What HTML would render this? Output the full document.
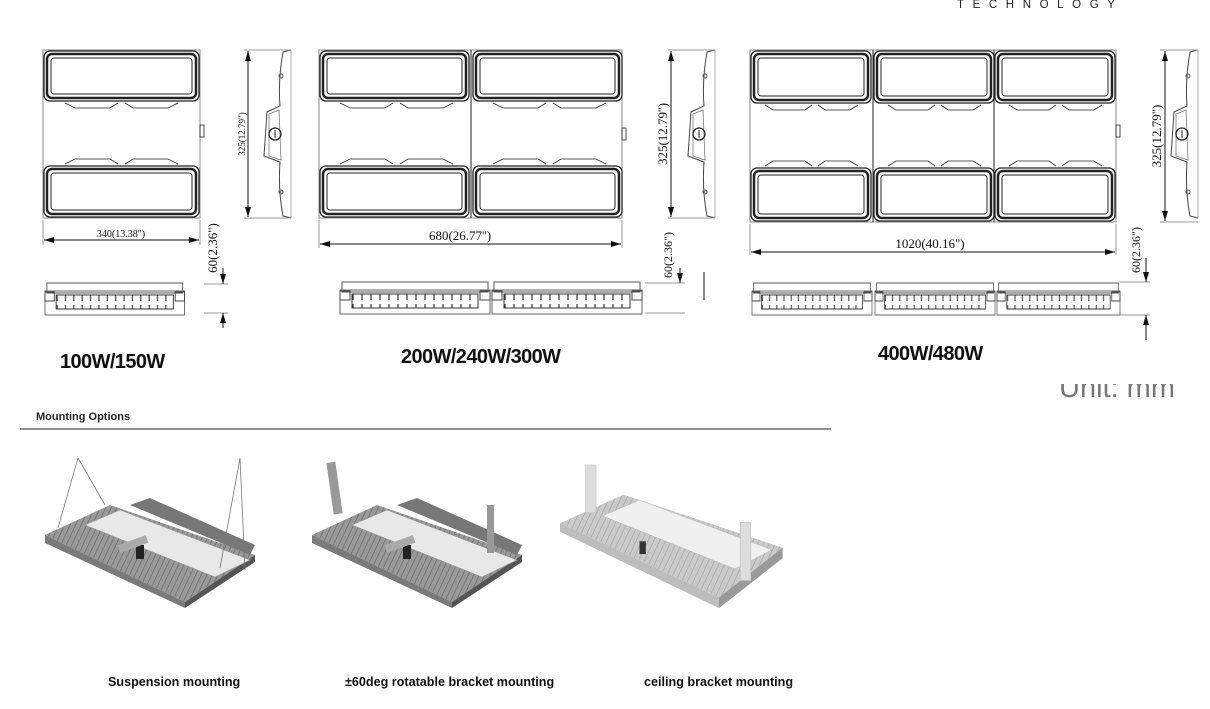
<!DOCTYPE html>
<html><head><meta charset="utf-8">
<style>
html,body{margin:0;padding:0;background:#fff;}
body{width:1210px;height:709px;position:relative;overflow:hidden;font-family:"Liberation Sans",sans-serif;}
.t{position:absolute;white-space:nowrap;}
.lbl{font-weight:bold;font-size:20px;color:#111;letter-spacing:-0.6px;}
.cap{font-weight:bold;font-size:12.6px;color:#111;}
</style></head><body>
<svg width="1210" height="709" style="position:absolute;left:0;top:0" xmlns="http://www.w3.org/2000/svg">
<defs>
<pattern id="tk" width="9" height="20" patternUnits="userSpaceOnUse">
<rect width="9" height="20" fill="#fff"/><line x1="4" y1="2" x2="4" y2="18" stroke="#333" stroke-width="1.2"/>
</pattern>
<pattern id="fin" width="5" height="5" patternUnits="userSpaceOnUse" patternTransform="rotate(25)">
<rect width="5" height="5" fill="#999"/><line x1="0" y1="0" x2="0" y2="5" stroke="#666" stroke-width="1.4"/>
</pattern>
<pattern id="finL" width="5" height="5" patternUnits="userSpaceOnUse" patternTransform="rotate(25)">
<rect width="5" height="5" fill="#cacaca"/><line x1="0" y1="0" x2="0" y2="5" stroke="#a5a5a5" stroke-width="1.4"/>
</pattern>
<g id="side">
<path d="M30,0 L22,2 Q17,30 19,56 L6,62 L3,106 L19,112 Q17,140 22,166 L30,168" fill="none" stroke="#444" stroke-width="1"/>
<path d="M8,64 L18,60 L20,110 L8,106 Z" fill="none" stroke="#777" stroke-width="0.8"/>
<line x1="30" y1="0" x2="30" y2="168" stroke="#999" stroke-width="0.8"/>
<circle cx="14" cy="84" r="6" fill="none" stroke="#222" stroke-width="1.3"/>
<line x1="14" y1="80" x2="14" y2="88" stroke="#222"/>
<circle cx="20" cy="26" r="2" fill="none" stroke="#555"/>
<circle cx="20" cy="142" r="2" fill="none" stroke="#555"/>
</g>
<g id="bot">
<rect x="2" y="0" width="146" height="10" fill="none" stroke="#555" stroke-width="1"/>
<rect x="0" y="8" width="150" height="24" fill="none" stroke="#666" stroke-width="1"/>
<rect x="12" y="12" width="126" height="14" fill="url(#tk)" stroke="#333" stroke-width="1"/>
<rect x="0" y="9" width="10" height="9" fill="none" stroke="#444"/>
<rect x="140" y="9" width="10" height="9" fill="none" stroke="#444"/>
</g>
<marker id="ar" viewBox="0 0 10 6" refX="10" refY="3" markerWidth="10" markerHeight="6" orient="auto-start-reverse"><path d="M0,0 L10,3 L0,6 Z" fill="#111"/></marker>
</defs>

<g fill="none" stroke="#222">
<rect x="43" y="50" width="157" height="168" stroke="#888" stroke-width="1"/>
<rect x="44" y="51" width="155" height="50" rx="6" stroke-width="1.3"/>
<rect x="47" y="54" width="149" height="44" rx="5" stroke-width="2.5"/>
<rect x="51" y="58" width="141" height="36" rx="3" stroke-width="1"/>
<rect x="44" y="166" width="155" height="51" rx="6" stroke-width="1.3"/>
<rect x="47" y="169" width="149" height="45" rx="5" stroke-width="2.5"/>
<rect x="51" y="173" width="141" height="37" rx="3" stroke-width="1"/>
<path d="M65,103 L75,108 L110,108 L118,103 M125,103 L133,108 L168,108 L178,103" stroke-width="0.8"/>
<path d="M65,164 L75,159 L110,159 L118,164 M125,164 L133,159 L168,159 L178,164" stroke-width="0.8"/>
<rect x="200" y="125" width="4" height="12" stroke-width="0.8"/>

<rect x="319" y="50" width="303" height="168" stroke="#888" stroke-width="1"/>
<line x1="471" y1="50" x2="471" y2="218" stroke-width="1"/>
<g id="p2">
<rect x="320" y="51" width="149" height="50" rx="6" stroke-width="1.3"/>
<rect x="323" y="54" width="143" height="44" rx="5" stroke-width="2.5"/>
<rect x="327" y="58" width="135" height="36" rx="3" stroke-width="1"/>
<rect x="320" y="166" width="149" height="51" rx="6" stroke-width="1.3"/>
<rect x="323" y="169" width="143" height="45" rx="5" stroke-width="2.5"/>
<rect x="327" y="173" width="135" height="37" rx="3" stroke-width="1"/>
<path d="M340,103 L350,108 L385,108 L393,103 M400,103 L408,108 L443,108 L453,103" stroke-width="0.8"/>
<path d="M340,164 L350,159 L385,159 L393,164 M400,164 L408,159 L443,159 L453,164" stroke-width="0.8"/>
</g>
<use href="#p2" x="153"/>
<rect x="622" y="128" width="4" height="12" stroke-width="0.8"/>

<rect x="750" y="50" width="366" height="172" stroke="#888" stroke-width="1"/>
<line x1="873" y1="50" x2="873" y2="222"/><line x1="994" y1="50" x2="994" y2="222"/>
<g id="p3">
<rect x="751" y="51" width="120" height="52" rx="6" stroke-width="1.3"/>
<rect x="754" y="54" width="114" height="46" rx="5" stroke-width="2.5"/>
<rect x="758" y="58" width="106" height="38" rx="3" stroke-width="1"/>
<rect x="751" y="168" width="120" height="53" rx="6" stroke-width="1.3"/>
<rect x="754" y="171" width="114" height="47" rx="5" stroke-width="2.5"/>
<rect x="758" y="175" width="106" height="39" rx="3" stroke-width="1"/>
<path d="M765,105 L773,110 L805,110 L812,105 M818,105 L825,110 L850,110 L858,105" stroke-width="0.8"/>
<path d="M765,166 L773,161 L805,161 L812,166 M818,166 L825,161 L850,161 L858,166" stroke-width="0.8"/>
</g>
<use href="#p3" x="123"/><use href="#p3" x="244"/>
<rect x="1116" y="125" width="4" height="12" stroke-width="0.8"/>
</g>

<use href="#side" x="261" y="50"/>
<use href="#side" x="685" y="50"/>
<use href="#side" x="1168" y="50"/>

<g stroke="#111" stroke-width="1">
<line x1="43" y1="220" x2="43" y2="245" stroke="#999"/><line x1="200" y1="220" x2="200" y2="245" stroke="#999"/>
<line x1="44" y1="240" x2="199" y2="240" marker-start="url(#ar)" marker-end="url(#ar)"/>
<line x1="319" y1="220" x2="319" y2="248" stroke="#999"/><line x1="622" y1="220" x2="622" y2="248" stroke="#999"/>
<line x1="320" y1="244" x2="621" y2="244" marker-start="url(#ar)" marker-end="url(#ar)"/>
<line x1="750" y1="224" x2="750" y2="255" stroke="#999"/><line x1="1116" y1="224" x2="1116" y2="255" stroke="#999"/>
<line x1="751" y1="252" x2="1115" y2="252" marker-start="url(#ar)" marker-end="url(#ar)"/>
<line x1="244" y1="50" x2="290" y2="50" stroke="#999"/><line x1="244" y1="218" x2="290" y2="218" stroke="#999"/>
<line x1="248" y1="51" x2="248" y2="217" marker-start="url(#ar)" marker-end="url(#ar)"/>
<line x1="668" y1="50" x2="715" y2="50" stroke="#999"/><line x1="668" y1="218" x2="715" y2="218" stroke="#999"/>
<line x1="671" y1="51" x2="671" y2="217" marker-start="url(#ar)" marker-end="url(#ar)"/>
<line x1="1160" y1="50" x2="1198" y2="50" stroke="#999"/><line x1="1160" y1="222" x2="1198" y2="222" stroke="#999"/>
<line x1="1165" y1="51" x2="1165" y2="221" marker-start="url(#ar)" marker-end="url(#ar)"/>
<line x1="204" y1="284" x2="228" y2="284" stroke="#999"/><line x1="204" y1="313" x2="228" y2="313" stroke="#999"/>
<line x1="223" y1="268" x2="223" y2="284" marker-end="url(#ar)"/><line x1="223" y1="328" x2="223" y2="313" marker-end="url(#ar)"/>
<line x1="645" y1="283" x2="685" y2="283" stroke="#999"/><line x1="645" y1="313" x2="685" y2="313" stroke="#999"/>
<line x1="680" y1="268" x2="680" y2="283" marker-end="url(#ar)"/>
<line x1="1120" y1="282" x2="1150" y2="282" stroke="#999"/><line x1="1120" y1="315" x2="1150" y2="315" stroke="#999"/>
<line x1="1146" y1="258" x2="1146" y2="282" marker-end="url(#ar)"/><line x1="1146" y1="340" x2="1146" y2="315" marker-end="url(#ar)"/>
<line x1="704" y1="272" x2="704" y2="300" stroke="#888" stroke-width="2"/>
<line x1="20" y1="429" x2="831" y2="429" stroke="#222"/>
</g>

<use href="#bot" x="45" y="283" transform="translate(45,0) scale(0.93,1) translate(-45,0)"/>
<use href="#bot" x="340" y="282"/><use href="#bot" x="492" y="282"/>
<use href="#bot" x="752" y="283" transform="translate(752,0) scale(0.8,1) translate(-752,0)"/>
<use href="#bot" x="875" y="283" transform="translate(875,0) scale(0.8,1) translate(-875,0)"/>
<use href="#bot" x="997" y="283" transform="translate(997,0) scale(0.82,1) translate(-997,0)"/>

<g font-family="Liberation Serif,serif" fill="#111">
<text x="121" y="237" font-size="10" text-anchor="middle">340(13.38")</text>
<text x="460" y="240" font-size="13" text-anchor="middle">680(26.77'')</text>
<text x="930" y="248" font-size="13" text-anchor="middle">1020(40.16")</text>
<text transform="translate(245,134) rotate(-90)" font-size="9" text-anchor="middle">325(12.79")</text>
<text transform="translate(667,134) rotate(-90)" font-size="13" text-anchor="middle">325(12.79'')</text>
<text transform="translate(1161,136) rotate(-90)" font-size="13" text-anchor="middle">325(12.79")</text>
<text transform="translate(217,248) rotate(-90)" font-size="13" text-anchor="middle">60(2.36")</text>
<text transform="translate(672,255) rotate(-90)" font-size="12" text-anchor="middle">60(2.36")</text>
<text transform="translate(1140,250) rotate(-90)" font-size="12" text-anchor="middle">60(2.36")</text>
</g>

<g id="lamp">
<polygon points="45,535 110,505 255,555 185,602" fill="url(#fin)"/>
<polygon points="45,535 185,602 185,608 45,543" fill="#7a7a7a"/>
<polygon points="185,602 255,555 255,562 185,608" fill="#555"/>
<polygon points="85,525 120,510 250,560 215,577" fill="#e8e8e8" stroke="#999" stroke-width="0.6"/>
<polygon points="130,505 150,498 255,545 250,555" fill="#777"/>
<rect x="136" y="545" width="8" height="14" fill="#222"/>
<rect x="118" y="540" width="30" height="8" fill="#aaa" transform="rotate(-20 133 544)"/>
</g>
<g stroke="#777" stroke-width="0.8" fill="none">
<line x1="78" y1="458" x2="58" y2="528"/><line x1="78" y1="458" x2="105" y2="505"/>
<line x1="240" y1="458" x2="220" y2="568"/><line x1="240" y1="458" x2="245" y2="570"/>
</g>
<use href="#lamp" x="267" y="0"/>
<rect x="330" y="462" width="9" height="52" fill="#999" transform="rotate(-8 335 488)"/>
<rect x="487" y="505" width="7" height="48" fill="#999"/>
<g transform="translate(560,465) scale(1.06)">
<polygon points="0,55 60,28 210,78 150,125" fill="url(#finL)"/>
<polygon points="0,55 150,125 150,135 0,63" fill="#bdbdbd"/>
<polygon points="150,125 210,78 210,88 150,135" fill="#999"/>
<polygon points="40,48 75,33 200,80 165,98" fill="#f0f0f0" stroke="#bbb" stroke-width="0.6"/>
<rect x="75" y="72" width="6" height="12" fill="#333"/>
<rect x="24" y="0" width="10" height="45" fill="#ddd" stroke="#bbb" stroke-width="0.5"/>
<rect x="170" y="54" width="10" height="55" fill="#ddd" stroke="#bbb" stroke-width="0.5"/>
</g>
</svg>

<div class="t" style="left:957px;top:-1px;font-size:11.5px;letter-spacing:8.6px;color:#222;">TECHNOLOGY</div>
<div class="t lbl" style="left:60px;top:351px;">100W/150W</div>
<div class="t lbl" style="left:401px;top:346px;">200W/240W/300W</div>
<div class="t lbl" style="left:878px;top:343px;">400W/480W</div>
<div style="position:absolute;left:1055px;top:384px;width:140px;height:26px;overflow:hidden;">
<div class="t" style="left:4px;top:-12px;font-size:29px;color:#777;">Unit: mm</div></div>
<div class="t" style="left:36px;top:411px;font-size:11px;font-weight:bold;color:#222;">Mounting Options</div>
<div class="t cap" style="left:108px;top:675px;">Suspension mounting</div>
<div class="t cap" style="left:345px;top:675px;">±60deg rotatable bracket mounting</div>
<div class="t cap" style="left:644px;top:675px;">ceiling bracket mounting</div>
</body></html>
